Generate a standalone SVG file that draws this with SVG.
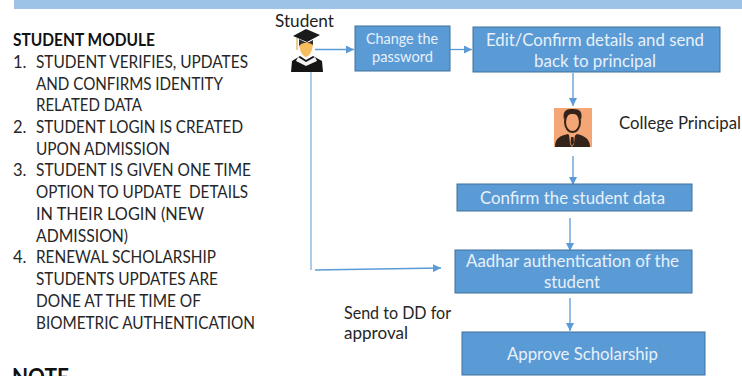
<svg xmlns="http://www.w3.org/2000/svg" width="742" height="376" viewBox="0 0 742 376">
<style>
text{font-family:Lato,"Open Sans","Liberation Sans",sans-serif}
.t{font-size:16.500px;fill:#262626}
.b{font-weight:700;fill:#111}
.w{font-size:17px;fill:#e8f0fa}
.s{font-size:14.500px}
.box{fill:#5b9bd5;stroke:#41719c;stroke-width:1}
.c{fill:none;stroke:#7fb3e0;stroke-width:1.3}
.d{fill:none;stroke:#5b9bd5;stroke-width:1.3;marker-end:url(#a)}
</style>
<defs><marker id="a" markerUnits="userSpaceOnUse" markerWidth="8" markerHeight="8" refX="8" refY="4" orient="auto"><path d="M0 0L8 4L0 8Z" fill="#5b9bd5"/></marker></defs>
<rect x="14" y="0" width="728" height="9" fill="#9dc3e6"/>
<g id="student-notes">
<text class="t b" x="13" y="46" textLength="142" lengthAdjust="spacingAndGlyphs">STUDENT MODULE</text>
<text class="t" x="13" y="68">1.</text><text class="t" x="36" y="68" textLength="212" lengthAdjust="spacingAndGlyphs">STUDENT VERIFIES, UPDATES</text>
<text class="t" x="36" y="90" textLength="187" lengthAdjust="spacingAndGlyphs">AND CONFIRMS IDENTITY</text>
<text class="t" x="36" y="111" textLength="106" lengthAdjust="spacingAndGlyphs">RELATED DATA</text>
<text class="t" x="13" y="133">2.</text><text class="t" x="36" y="133" textLength="207" lengthAdjust="spacingAndGlyphs">STUDENT LOGIN IS CREATED</text>
<text class="t" x="36" y="155" textLength="134" lengthAdjust="spacingAndGlyphs">UPON ADMISSION</text>
<text class="t" x="13" y="176">3.</text><text class="t" x="36" y="176" textLength="215" lengthAdjust="spacingAndGlyphs">STUDENT IS GIVEN ONE TIME</text>
<text class="t" x="36" y="198" textLength="212" lengthAdjust="spacingAndGlyphs" xml:space="preserve">OPTION TO UPDATE  DETAILS</text>
<text class="t" x="36" y="220" textLength="168" lengthAdjust="spacingAndGlyphs">IN THEIR LOGIN (NEW</text>
<text class="t" x="36" y="242" textLength="92" lengthAdjust="spacingAndGlyphs">ADMISSION)</text>
<text class="t" x="13" y="263">4.</text><text class="t" x="36" y="263" textLength="180" lengthAdjust="spacingAndGlyphs">RENEWAL SCHOLARSHIP</text>
<text class="t" x="36" y="285" textLength="182" lengthAdjust="spacingAndGlyphs">STUDENTS UPDATES ARE</text>
<text class="t" x="36" y="307" textLength="165" lengthAdjust="spacingAndGlyphs">DONE AT THE TIME OF</text>
<text class="t" x="36" y="329" textLength="219" lengthAdjust="spacingAndGlyphs">BIOMETRIC AUTHENTICATION</text>
<text x="12" y="385" font-size="22" font-weight="700" fill="#111" textLength="57" lengthAdjust="spacingAndGlyphs">NOTE</text>
</g>
<g id="connectors">
<path class="d" d="M315 49.500H354"/>
<path class="d" d="M450 49.500H472"/>
<path class="c" d="M311 72V270"/>
<path class="d" d="M315 270L441 268"/>
<path class="d" d="M573 73V106"/>
<path class="d" d="M573 156V185"/>
<path class="d" d="M570 218V251"/>
<path class="d" d="M570 298V331"/>
</g>
<g id="student">
<text x="275" y="27" font-size="17" fill="#222" textLength="59" lengthAdjust="spacingAndGlyphs">Student</text>
<path d="M299 42C299 50 302 56 306 57C310 56 313 50 313 42Z" fill="#f8bd5e"/>
<path d="M293 36L306 29L320 35L307 42Z" fill="#1a1a1a"/>
<path d="M299 39L307 43L313 40V45C308 42 303 42 299 46Z" fill="#333"/>
<path d="M297 38V50" stroke="#c9a030" stroke-width="1" fill="none"/>
<path d="M300 56L292 61L291 72H323L322 61L313 56L306 60Z" fill="#151515"/>
<path d="M298 57L306 62L315 57L317 61L306 66L296 61Z" fill="#f2f2f2"/>
</g>
<g id="change-password">
<rect class="box" x="355" y="26" width="95" height="45"/>
<text class="w s" x="366" y="44" textLength="72" lengthAdjust="spacingAndGlyphs">Change the</text>
<text class="w s" x="372" y="62" textLength="61" lengthAdjust="spacingAndGlyphs">password</text>
</g>
<g id="edit-confirm">
<rect class="box" x="473" y="27" width="247" height="45"/>
<text class="w" x="486" y="46" textLength="218" lengthAdjust="spacingAndGlyphs">Edit/Confirm details and send</text>
<text class="w" x="534" y="67" textLength="122" lengthAdjust="spacingAndGlyphs">back to principal</text>
</g>
<g id="principal">
<rect x="554" y="108" width="38" height="39" fill="#f4a676"/>
<ellipse cx="572.500" cy="122" rx="7.500" ry="10" fill="#f4a676" stroke="#33231b" stroke-width="2"/>
<path d="M564 120C562 110 567 109 573 109C580 109 583 112 581 120C579 115 577 114 572 114C568 114 566 116 564 120Z" fill="#33231b"/>
<path d="M555 147C555 138 560 136 568 134L572 138L577 134C585 136 590 139 590 147Z" fill="#33231b"/>
<path d="M569 134L572 137L575 134L574 144L572 147L570 144Z" fill="#f4a676"/>
<path d="M571 137H573.500L574 143L572 146L570.500 143Z" fill="#33231b"/>
<text x="619" y="129" font-size="17" fill="#262626" textLength="122" lengthAdjust="spacingAndGlyphs">College Principal</text>
</g>
<g id="confirm-data">
<rect class="box" x="457" y="184" width="235" height="27"/>
<text class="w" x="480" y="204" textLength="185" lengthAdjust="spacingAndGlyphs">Confirm the student data</text>
</g>
<g id="aadhar">
<rect class="box" x="455" y="250" width="237" height="43"/>
<text class="w" x="466" y="267" textLength="213" lengthAdjust="spacingAndGlyphs">Aadhar authentication of the</text>
<text class="w" x="544" y="288" textLength="56" lengthAdjust="spacingAndGlyphs">student</text>
</g>
<g id="dd-label">
<text class="t" x="344" y="319" textLength="107" lengthAdjust="spacingAndGlyphs">Send to DD for</text>
<text class="t" x="344" y="339" textLength="64" lengthAdjust="spacingAndGlyphs">approval</text>
</g>
<g id="approve">
<rect class="box" x="462" y="332" width="243" height="43"/>
<text class="w" x="507" y="360" textLength="151" lengthAdjust="spacingAndGlyphs">Approve Scholarship</text>
</g>
</svg>
